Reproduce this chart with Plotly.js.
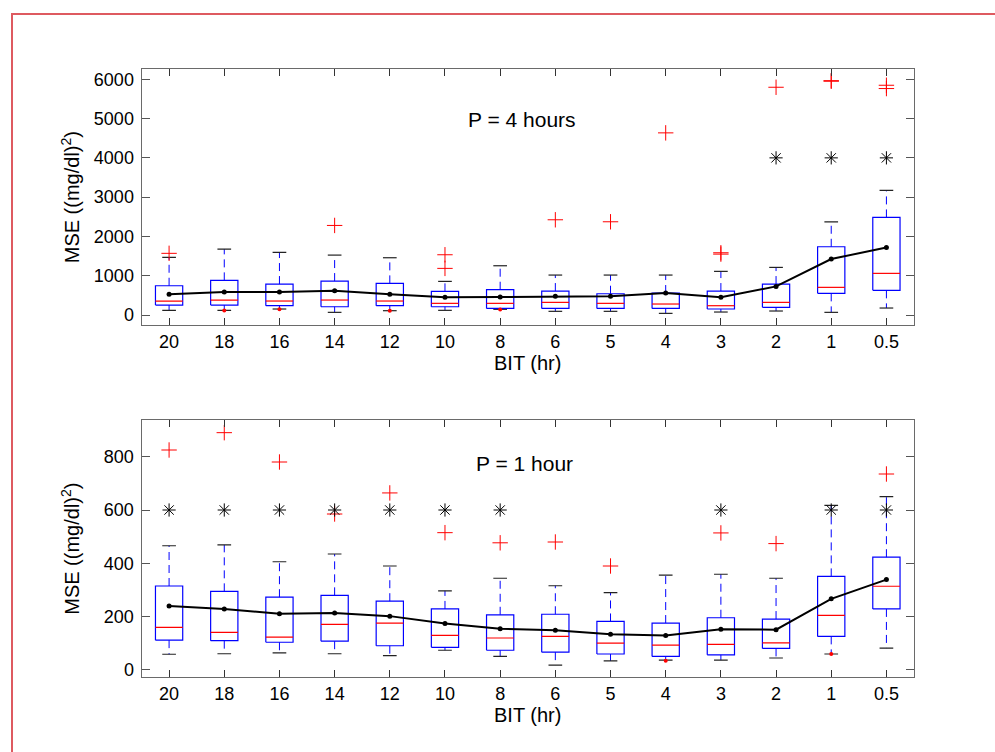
<!DOCTYPE html>
<html>
<head>
<meta charset="utf-8">
<script src="https://cdn.plot.ly/plotly-3.0.1.min.js"></script>
<style>
  html, body { margin: 0; padding: 0; background: #ffffff; }
  #wrap { position: relative; width: 995px; height: 752px; overflow: hidden; }
  #chart { position: absolute; left: 0; top: 0; width: 995px; height: 752px; }
  #frame { position: absolute; left: 11px; top: 13px; width: 1200px; height: 1000px;
           border-top: 2px solid #de5a60; border-left: 2px solid #de5a60; pointer-events: none; }
</style>
</head>
<body>
<div id="wrap">
  <div id="chart"></div>
  <div id="frame"></div>
</div>
<script>
// ---- categories (BIT, hr) ----
const bits = ['20','18','16','14','12','10','8','6','5','4','3','2','1','0.5'];

// ---- Top panel: P = 4 hours ----
const q1Top   = [254, 254, 237, 211, 237, 211, 169, 169, 169, 169, 153, 195, 551, 628];
const medTop  = [356, 381, 356, 381, 356, 297, 297, 322, 297, 280, 237, 322, 704, 1060];
const q3Top   = [745, 882, 788, 864, 805, 602, 644, 610, 542, 559, 610, 788, 1737, 2484];
const loTop   = [119, 119, 153, 68, 110, 119, 145, 94, 94, 42, 76, 102, 68, 178];
const hiTop   = [1467, 1678, 1594, 1525, 1458, 856, 1254, 1017, 1017, 1017, 1111, 1212, 2373, 3171];
const meanTop = [526, 585, 585, 618, 526, 450, 458, 475, 475, 559, 450, 729, 1424, 1721];
const outTopCat = ['20','14','10','10','6','5','4','3','3','2','1','1','0.5','0.5'];
const outTopVal = [1570, 2280, 1534, 1187, 2424, 2373, 4636, 1550, 1585, 5797, 5950, 5965, 5848, 5764];
const starTopCat = ['2','1','0.5'];
const starTopVal = [4000, 4000, 4000];
const dotTopCat = ['18','16','12','8'];
const dotTopVal = [115, 145, 110, 140];

// ---- Bottom panel: P = 1 hour ----
const q1Bot   = [112, 110, 104, 108, 91, 85, 74, 67, 60, 51, 57, 81, 126, 229];
const medBot  = [160, 141, 123, 171, 176, 130, 120, 126, 101, 93, 96, 102, 205, 314];
const q3Bot   = [315, 295, 273, 280, 258, 229, 207, 209, 182, 176, 196, 191, 351, 423];
const loBot   = [59, 61, 64, 61, 54, 74, 51, 18, 34, 37, 37, 45, 60, 82];
const hiBot   = [466, 469, 406, 435, 390, 297, 344, 316, 290, 356, 359, 344, 617, 650];
const meanBot = [240, 229, 211, 214, 202, 174, 155, 149, 134, 129, 153, 151, 267, 339];
const outBotCat = ['20','18','16','14','12','10','8','6','5','3','2','0.5'];
const outBotVal = [825, 890, 780, 585, 664, 515, 477, 480, 390, 514, 474, 735];
const starBotCat = ['20','18','16','14','12','10','8','3','1','0.5'];
const starBotVal = [600, 600, 600, 600, 600, 600, 600, 600, 600, 600];
const dotBotCat = ['4','1'];
const dotBotVal = [35, 60];

// ---- tick labels ----
const yTicksTop = [0, 1000, 2000, 3000, 4000, 5000, 6000];
const yTicksBot = [0, 200, 400, 600, 800];

const pos = c => bits.indexOf(c) + 1;
const HW = 0.247;   // half box width (category units)
const CW = 0.124;   // half cap width

function panelTraces(q1, med, q3, lo, hi, mean, oc, ov, sc, sv, dc, dv, xa, ya) {
  const bx = [], by = [], wx = [], wy = [], cx = [], cy = [], mx = [], my = [];
  for (let i = 0; i < q1.length; i++) {
    const p = i + 1;
    bx.push(p - HW, p + HW, p + HW, p - HW, p - HW, null);
    by.push(q1[i], q1[i], q3[i], q3[i], q1[i], null);
    wx.push(p, p, null, p, p, null);
    wy.push(q3[i], hi[i], null, q1[i], lo[i], null);
    cx.push(p - CW, p + CW, null, p - CW, p + CW, null);
    cy.push(hi[i], hi[i], null, lo[i], lo[i], null);
    mx.push(p - HW, p + HW, null);
    my.push(med[i], med[i], null);
  }
  const base = { xaxis: xa, yaxis: ya, hoverinfo: 'skip', showlegend: false, cliponaxis: true };
  return [
    Object.assign({ type: 'scatter', mode: 'lines', x: wx, y: wy,
      line: { color: '#0000ff', width: 1, dash: '8px,5px' } }, base),
    Object.assign({ type: 'scatter', mode: 'lines', x: cx, y: cy,
      line: { color: '#222222', width: 1.2 } }, base),
    Object.assign({ type: 'scatter', mode: 'lines', x: bx, y: by,
      line: { color: '#0000ff', width: 1.2 } }, base),
    Object.assign({ type: 'scatter', mode: 'lines', x: mx, y: my,
      line: { color: '#ff0000', width: 1.2 } }, base),
    Object.assign({ type: 'scatter', mode: 'markers', x: oc.map(pos), y: ov,
      marker: { symbol: 'cross-thin-open', size: 11, color: '#ff0000', line: { color: '#ff0000', width: 1 } } }, base),
    Object.assign({ type: 'scatter', mode: 'markers', x: dc.map(pos), y: dv,
      marker: { symbol: 'circle', size: 4, color: '#ff0000' } }, base),
    Object.assign({ type: 'scatter', mode: 'markers', x: sc.map(pos), y: sv,
      marker: { symbol: 'asterisk-open', size: 11, color: '#000000', line: { color: '#000000', width: 1 } } }, base),
    Object.assign({ type: 'scatter', mode: 'lines+markers', x: mean.map((v, i) => i + 1), y: mean,
      line: { color: '#000000', width: 2 }, marker: { color: '#000000', size: 5 } }, base)
  ];
}

const traces = [].concat(
  panelTraces(q1Top, medTop, q3Top, loTop, hiTop, meanTop, outTopCat, outTopVal,
              starTopCat, starTopVal, dotTopCat, dotTopVal, 'x', 'y'),
  panelTraces(q1Bot, medBot, q3Bot, loBot, hiBot, meanBot, outBotCat, outBotVal,
              starBotCat, starBotVal, dotBotCat, dotBotVal, 'x2', 'y2')
);

const FONT = 'Liberation Sans, Arial, sans-serif';
const xDom = [141.5 / 995, 914 / 995];

function xAxis(anchor) {
  return {
    domain: xDom, anchor: anchor, range: [0.5, 14.5], fixedrange: true,
    tickmode: 'array', tickvals: bits.map((b, i) => i + 1), ticktext: bits,
    ticks: 'inside', ticklen: 7, tickwidth: 1, tickcolor: '#333333',
    showline: true, linecolor: '#6a6a6a', linewidth: 1, mirror: 'ticks',
    showgrid: false, zeroline: false,
    tickfont: { family: FONT, size: 18, color: '#000000' },
    title: { text: 'BIT (hr)', font: { family: FONT, size: 20, color: '#000000' }, standoff: 4 }
  };
}
function yAxis(anchor, dom, rng, ticks, standoff) {
  return {
    domain: dom, anchor: anchor, range: rng, fixedrange: true,
    tickmode: 'array', tickvals: ticks, ticktext: ticks.map(String),
    ticks: 'inside', ticklen: 8, tickwidth: 1, tickcolor: '#555555',
    showline: true, linecolor: '#6a6a6a', linewidth: 1, mirror: 'ticks',
    showgrid: false, zeroline: false, ticklabelstandoff: 3,
    tickfont: { family: FONT, size: 18, color: '#000000' },
    title: { text: 'MSE ((mg/dl)<sup>2</sup>)', font: { family: FONT, size: 20, color: '#000000' }, standoff: standoff }
  };
}

const layout = {
  width: 995, height: 752,
  margin: { l: 0, r: 0, t: 0, b: 0 },
  paper_bgcolor: '#ffffff', plot_bgcolor: '#ffffff',
  showlegend: false,
  font: { family: FONT, color: '#000000' },
  xaxis: xAxis('y'),
  yaxis: yAxis('x', [1 - 325 / 752, 1 - 69.3 / 752], [-254, 6254], yTicksTop, 8),
  xaxis2: xAxis('y2'),
  yaxis2: yAxis('x2', [1 - 677.3 / 752, 1 - 420 / 752], [-27.4, 937.5], yTicksBot, 18),
  annotations: [
    { text: 'P = 4 hours', xref: 'x', yref: 'y', x: 7.39, y: 4976, showarrow: false,
      font: { family: FONT, size: 21, color: '#000000' } },
    { text: 'P = 1 hour', xref: 'x2', yref: 'y2', x: 7.45, y: 776, showarrow: false,
      font: { family: FONT, size: 21, color: '#000000' } }
  ]
};

Plotly.newPlot('chart', traces, layout, { staticPlot: true, displayModeBar: false });
</script>
</body>
</html>
